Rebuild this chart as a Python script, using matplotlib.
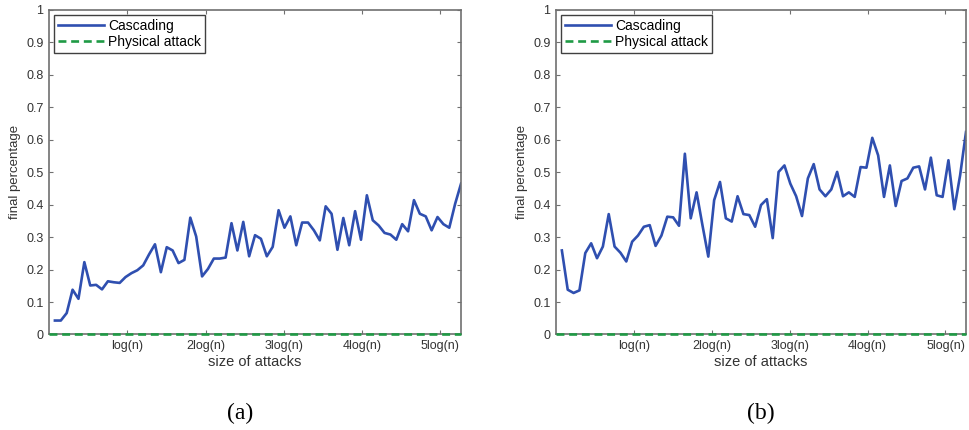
import numpy as np
import matplotlib
matplotlib.use("Agg")
import matplotlib.pyplot as plt

plt.rcParams['font.family'] = ['Liberation Sans', 'DejaVu Sans']

# cascading failure percentage
cascade_a = [0.043, 0.043, 0.066, 0.138, 0.110, 0.223, 0.151, 0.153, 0.139, 0.164,
             0.161, 0.159, 0.177, 0.189, 0.198, 0.213, 0.247, 0.278, 0.192, 0.269,
             0.259, 0.220, 0.230, 0.360, 0.302, 0.179, 0.202, 0.234, 0.234, 0.237,
             0.343, 0.259, 0.347, 0.241, 0.306, 0.295, 0.241, 0.270, 0.383, 0.329,
             0.364, 0.275, 0.345, 0.345, 0.321, 0.290, 0.395, 0.372, 0.261, 0.359,
             0.275, 0.380, 0.292, 0.429, 0.352, 0.336, 0.313, 0.308, 0.292, 0.340,
             0.318, 0.414, 0.372, 0.364, 0.321, 0.362, 0.340, 0.329, 0.403, 0.465]
cascade_b = [0.259, 0.138, 0.128, 0.136, 0.251, 0.281, 0.235, 0.271, 0.371, 0.271,
             0.252, 0.225, 0.286, 0.305, 0.332, 0.337, 0.273, 0.305, 0.363, 0.361,
             0.335, 0.557, 0.358, 0.438, 0.337, 0.240, 0.414, 0.470, 0.358, 0.348,
             0.426, 0.371, 0.368, 0.332, 0.399, 0.417, 0.297, 0.501, 0.521, 0.465,
             0.426, 0.365, 0.481, 0.525, 0.447, 0.426, 0.447, 0.501, 0.426, 0.438,
             0.424, 0.516, 0.514, 0.606, 0.552, 0.424, 0.521, 0.396, 0.473, 0.481,
             0.514, 0.518, 0.447, 0.545, 0.429, 0.424, 0.537, 0.386, 0.491, 0.624]
physical_a = [0.0] * len(cascade_a)
physical_b = [0.0] * len(cascade_b)

log_n = 13.3
xtick_labels = ['log(n)', '2log(n)', '3log(n)', '4log(n)', '5log(n)']
yticks = np.round(np.arange(0, 1.01, 0.1), 1)
ytick_labels = ['0'] + [f'{v:g}' for v in yticks[1:-1]] + ['1']

blue = '#2f4fb0'
green = '#1f9a45'
spine_col = '#707070'

fig = plt.figure(figsize=(9.69, 4.30), dpi=100)
ax_a = fig.add_axes([0.0506, 0.2221, 0.4252, 0.7547])
ax_b = fig.add_axes([0.5738, 0.2221, 0.4231, 0.7547])

for ax, casc, phys, tag, cx in [(ax_a, cascade_a, physical_a, '(a)', 0.248),
                                (ax_b, cascade_b, physical_b, '(b)', 0.785)]:
    x = np.arange(1, len(casc) + 1)
    ax.plot(x, casc, color=blue, lw=1.9, label='Cascading')
    ax.plot(np.r_[0, x], np.r_[0, phys], color=green, lw=1.9, ls=(0, (3, 1.8)),
            label='Physical attack', clip_on=False, zorder=5)
    ax.set_xlim(0, len(casc))
    ax.set_ylim(0, 1)
    ax.set_xticks([log_n * k for k in range(1, 6)])
    ax.set_xticklabels(xtick_labels, fontsize=9, color='#333333')
    ax.set_yticks(yticks)
    ax.set_yticklabels(ytick_labels, fontsize=9, color='#333333')
    ax.tick_params(direction='in', top=True, right=True, length=3,
                   color=spine_col, pad=4)
    for s in ax.spines.values():
        s.set_color(spine_col)
        s.set_linewidth(1.2)
    ax.set_xlabel('size of attacks', fontsize=10.5, color='#333333', labelpad=2)
    ax.set_ylabel('final percentage', fontsize=9.5, color='#333333', labelpad=4)
    leg = ax.legend(loc='upper left', fontsize=10, handlelength=3.3,
                    borderaxespad=0.35, borderpad=0.3, labelspacing=0.15,
                    handletextpad=0.3, fancybox=False, framealpha=1)
    leg.get_frame().set_edgecolor('#404040')
    leg.get_frame().set_linewidth(1.0)
    fig.text(cx, 0.025, tag, fontsize=17, family='Liberation Serif', ha='center')

fig.savefig('out.png', dpi=100)
